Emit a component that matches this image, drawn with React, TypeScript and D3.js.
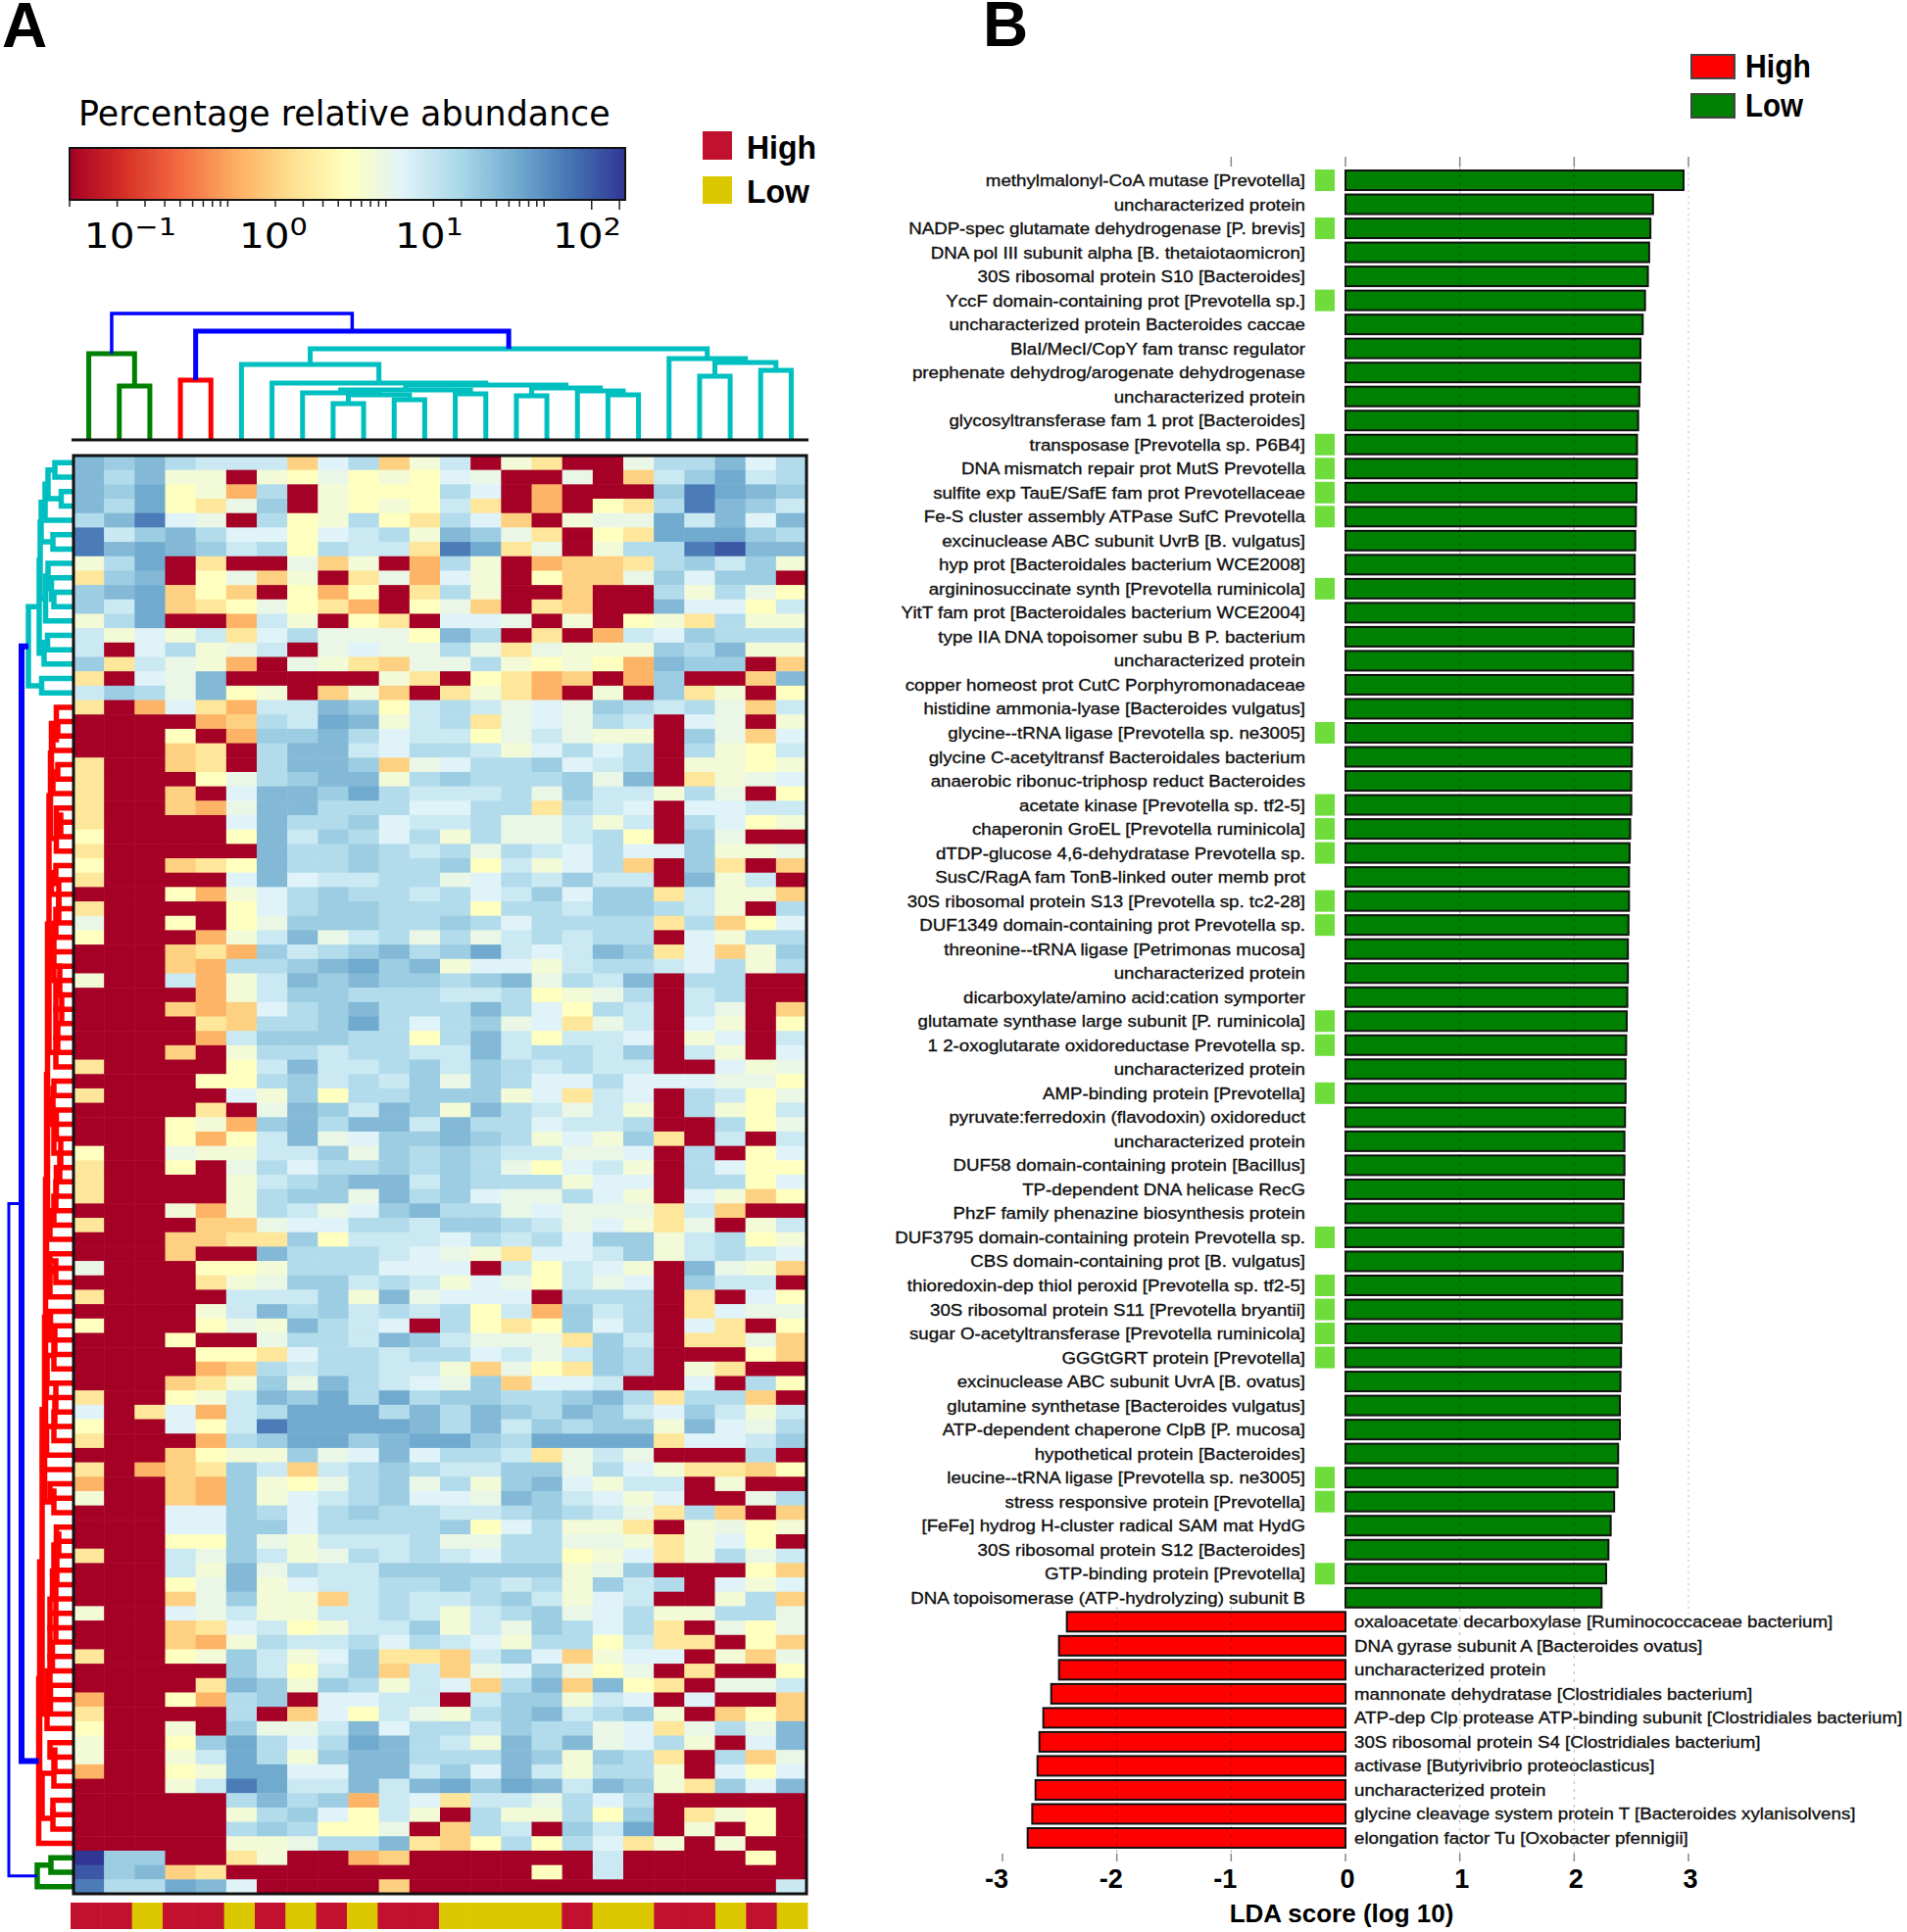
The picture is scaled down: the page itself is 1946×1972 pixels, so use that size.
import React from 'react';
import * as d3 from 'd3';

// ---------- Panel A data ----------
const levelKeys = ['R','O','o','y','Y','g','e','w','l','k','m','b','B','d','D','n'];
const levelAbundance = [0.05,0.62,1.0,1.5,2.85,4,5,6.4,8.8,13,18,26,34,66,107,163];
const heatRows = [
'b m b k l l l o w k o g l R g y R R e k k b w k',
'b k b g g R g Y e Y g Y w e R R e R o l m B l k',
'b m B Y g O k R g Y Y Y k w R O R R R m d B b m',
'b k B Y y e m R g Y g Y l y R O R Y y k d b m l',
'k b d w e R k Y g k Y y k w o R g e e B l b w b',
'd l m b k w w Y w l k g b m e y R Y y B B B m k',
'd b B b m l k Y k l l y d B y e R g k k d D b b',
'g k B R y R R e o g R O k g R O o o y k m l m g',
'y m b R Y e o g R y e O w g R Y o o e m w m m R',
'm b B o Y o R Y O Y R y k g R R o R R k g k e Y',
'm l B o y Y e Y y O R Y e o R y o R R b w w Y l',
'g k B R R O l g R Y y R w w e R g R Y g y k g g',
'l g w g l y w k e e e Y b k R y R O l w m k k k',
'l R w k g e l R e w e e k e y e g g g m k b g g',
'm y l e g O R e g y o e e k g Y g Y O b m m R o',
'y R w e b R R R R R g y R Y y O o R O m R R o b',
'l m k e b Y g R o g o R y g y O R g R m y g R Y',
'y R O w y O l l b m Y l k l e w e m k l k e o l',
'R R R R O o k l B b g l k y e w e k l R w e R g',
'R R R Y R O m m b k w l l Y e l e g g R m e o w',
'R R R o y R k b b l w k k l g w k w k R k g Y l',
'y R R o y R k b b m o e w k k m w l k R g g Y g',
'y R R R Y e k m b b g k m k k k m e b R y g e w',
'y R R o R w b b m B k l l l k e m l l g k e R Y',
'y R R o O e b b k k k w w k k y k l w R w w l l',
'y R R R R w b k k m w l l k e e l g l R k w Y g',
'Y R R R R Y b l m k w k g k e e l k Y R m e R R',
'y R R R R R b k k m k l k e k l w k w w m g g e',
'Y R R o y Y b k k m k k m Y l g w k o R m y R o',
'y R R R R w b w l l k k e w k l m l l R b g l R',
'R R R Y O g w k m k k l k w l m w m m y l g g o',
'y R R R R Y w k m m k k k Y k k l m m k l g R k',
'e R R Y R Y e m m m k k m k w k k k k y k o Y w',
'Y R R R O g l b e l k e k e l k l k k R w g k k',
'R R R o y O m l k m b k m B l w l b m y w o g m',
'R R R o O k k m b B m b g w w g l k k l w k g k',
'g R R l O g l b m b m m k m b e k l b R k k R R',
'R R R R O g l m m k k k l l k Y g e k R l k R R',
'R R R o O o w k m b k k k b k w Y k l R l e R o',
'R R R R y o k k m B k w k m e w y e l R w g R Y',
'R R R R O l m m m k k Y k b l Y l l w R g w R l',
'R R R o R g k k l k k l l b l k k l m R l g R w',
'y R R R R Y l b l l k m l m k l k l l R R w g e',
'R R R R Y Y k m l k l m e m k w w k w w w e e Y',
'y R R R R w g m Y k k m m m g w y l w R k l Y e',
'R R R R y R e b m l b m g b k l e l g R k g Y l',
'R R R Y g O m b k b b l b k k w l l k R R k Y e',
'R R R Y O Y l b e w m m b m k g w g m y R l R l',
'Y R R e g g l l m e m k m k l l e e w R k R Y w',
'y R R Y R e k w k k m k m k e Y w l g R k w Y Y',
'y R R R R g l k m b b l m k k k g w w R k k Y w',
'y R R R R g k m m e b k m w e e k w g R w g o Y',
'R R R g O g k l e w m b k k e w e e e y l o R R',
'y R R R o o e w w k k l m m k l e w g y e R g l',
'R R R o o y y m Y l l l w k l k w m m g l k Y g',
'R R R o R R b k k k l w e g y w w l m g l k l w',
'e R R R Y Y g k k k w w w R l Y l w g R b e g o',
'R R R R y g e m m l k l g w e Y l e w R m l l R',
'y R R R R l l l m g b e w w w R k k k R y R w Y',
'R R R R g l b k m l k l k Y l O m l k R y w e e',
'Y R R R Y e g b k l w R k Y y Y m w k R w y R Y',
'R R R Y R R e k k l b m l e e e y m l R y y e o',
'R R R R Y Y y w k k l k k w l e l m k R R R Y o',
'R R R R O o k l k k l l g o e Y y m k R g y R R',
'R R R o y g m e b k l w e m o w w l R R w R k Y',
'y R R Y g l b m B k B k m m k k m b k y k k o R',
'w R y w O l k B B B k b k b m k b m l w m l g l',
'Y R R w Y l d B B B B b k b l m k m m g b w e k',
'y R R R O k m B B m b B B m k B B B B y w w l m',
'R R R o Y g g m e w b w k k l y e l e R R R k R',
'y R O o y m l o l k m k l l m m e k w g y y o Y',
'O R R o O m g Y e k m e k g m b w g l l R g R R',
'g R R o O m g w l k m w w e b m l w g w R R e k',
'R R R w w m k w k m k k l l k m k l e y k o R o',
'R R R w w m m w k k k k m Y w k g g y R g e Y g',
'R R R Y Y m e g l l l k e e k k e e g y g w Y R',
'y R R l e m l g e k l k l w k k Y g w y g k e l',
'R R R l g b e k l l m m m m m m g e m R R R Y o',
'R R R Y e b g w l l k k m k l k g m l k R w g w',
'R R R o e m g g o l k l l k m l g w l R R g k o',
'g R R w e l g g l l k l g l k m e w k g g k k e',
'R R R o y w l Y g l l m g l e m k w k y R e Y e',
'R R R o O g k l l k w k l w g k k Y l y y R Y o',
'y R R Y g m l g w m y y o l m w o g w w R g o e',
'R R R R R m l Y l m o l o e w m e Y e R y R R Y',
'R R R R y b m g m k g l w o k b o b Y y R e e l',
'O R R Y O k m R w w l l R l m m g l w R w R R o',
'y R R R R k R o w Y l e g k m b l k m g R o Y o',
'Y R R g R m e e l b w k k l m k k e w y e k e b',
'g R R Y m B k w k B b k l g b k b e w k g R w b',
'g R R g l B k g m b b k k k b m g m k y R k o e',
'O R R Y g B B w w b b l m w b l g k k g R w Y w',
'R R R g l d B l l b l b B m B b l b m g y m w b',
'R R R R R k b k m O l w y l l e k w k R R R R R',
'R R R R R g k m w Y l g R k g g k Y m R y g Y R',
'R R R R R k m k Y Y e R o k l R m l B R g R Y R',
'R R R R R g g e k k b y o Y k Y k w y g R g R R',
'n m m R R y g R R O o R R R R R R l R R R R Y R',
'D m b o y R R R R R R R R R R Y R l R R R R R R',
'd k k B b w R R R R o R R R R R R R R R R R R l',
];
const sampleGroups = ['High','High','Low','High','High','Low','High','Low','High','Low','High','High','Low','Low','Low','Low','High','Low','Low','High','High','Low','High','Low'];
const rdYlBu = ['#a50026','#d73027','#f46d43','#fdae61','#fee090','#ffffbf','#e0f3f8','#abd9e9','#74add1','#4575b4','#313695'];
const colorbarTicks = [0.05,0.1,0.15,0.2,0.25,0.3,0.35,0.4,0.45,0.5,1,1.5,2,2.5,3,3.5,4,4.5,5,10,15,20,25,30,35,40,45,50,100,150];
const colorbarExponents = [['-1',133],['0',279],['1',438],['2',599]] as const;

type DNode = number | { l: DNode; r: DNode; h: number; c?: string };
const n = (l: DNode, r: DNode, h: number, c?: string): DNode => ({ l, r, h, c });

const CYAN = '#00bfc0', RED = '#ff0000', GREEN = '#008000', BLUE = '#0000ff';

// column dendrogram: merge heights
const colTree = n(
  n(0, n(1, 2, 55), 88, GREEN),
  n(
    n(3, 4, 61, RED),
    n(
      n(5, n(6, n(
        n(n(7, n(n(8, 9, 37), n(10, 11, 41), 46), 48), n(12, 13, 47), 51),
        n(n(14, 15, 45), n(16, n(17, 18, 46), 50), 53), 56), 58), 77),
      n(19, n(n(20, 21, 65), n(22, 23, 71), 79), 83),
      93, CYAN),
    111, BLUE),
  129, BLUE);

// row dendrogram: merge depths
const cyanRowTree = n(
  n(
    n(
      n(
        n(n(n(0, 1, 18), n(2, 3, 11.5), 25), 4, 28),
        n(5, 6, 20),
        32),
      n(n(7, n(8, n(9, 10, 19), 21.5), 25), 11, 27.5),
      33),
    n(n(12, 13, 25.5), 14, 29),
    34),
  n(15, 16, 31.5),
  45, CYAN);
const redFirstJoinRow = 17;
const redJoinHeights = [14,15,20,20,15,20,13,16.5,12,16.5,12,17,21.5,14,14,17,19,20.5,19,13,17,11,17,15,17,12,19,20,20.5,16.5,19,12,13,16.5,17,19,23,18,23,17,23,17,22.5,23,18,19,26,26.5,17,18,19,26.5,30.5,19,23,19,16.5,16.5,14,19,16,20.5,17,23,17,23,20.5,23,26,22.5,26,19,23,18,19,25,20,20,33];
const redClusters: [number, number][] = [[18,20],[21,23],[24,27],[28,42],[43,54],[55,58],[59,70],[71,73],[74,88]];
const redLowerClusters: [number, number][] = [[89,92],[93,95]];
const redStemHeights = [16.5,21.5,22.5,24,25.5,26.5,27.5,28.5,31,33.5,34.5];
const redLowerHeight = 31;
const redFirstRow = 17, redLastRow = 96;
const greenRowTree = n(n(97, 98, 22), 99, 36, GREEN);
const blueInnerHeight = 52, blueRootHeight = 65;

// ---------- Panel B data ----------
const lowLabels = ['methylmalonyl-CoA mutase [Prevotella]','uncharacterized protein','NADP-spec glutamate dehydrogenase [P. brevis]','DNA pol III subunit alpha [B. thetaiotaomicron]','30S ribosomal protein S10 [Bacteroides]','YccF domain-containing prot [Prevotella sp.]','uncharacterized protein Bacteroides caccae','BlaI/MecI/CopY fam transc regulator','prephenate dehydrog/arogenate dehydrogenase','uncharacterized protein','glycosyltransferase fam 1 prot [Bacteroides]','transposase [Prevotella sp. P6B4]','DNA mismatch repair prot MutS Prevotella','sulfite exp TauE/SafE fam prot Prevotellaceae','Fe-S cluster assembly ATPase SufC Prevotella','excinuclease ABC subunit UvrB [B. vulgatus]','hyp prot [Bacteroidales bacterium WCE2008]','argininosuccinate synth [Prevotella ruminicola]','YitT fam prot [Bacteroidales bacterium WCE2004]','type IIA DNA topoisomer subu B P. bacterium','uncharacterized protein','copper homeost prot CutC Porphyromonadaceae','histidine ammonia-lyase [Bacteroides vulgatus]','glycine--tRNA ligase [Prevotella sp. ne3005]','glycine C-acetyltransf Bacteroidales bacterium','anaerobic ribonuc-triphosp reduct Bacteroides','acetate kinase [Prevotella sp. tf2-5]','chaperonin GroEL [Prevotella ruminicola]','dTDP-glucose 4,6-dehydratase Prevotella sp.','SusC/RagA fam TonB-linked outer memb prot','30S ribosomal protein S13 [Prevotella sp. tc2-28]','DUF1349 domain-containing prot Prevotella sp.','threonine--tRNA ligase [Petrimonas mucosa]','uncharacterized protein','dicarboxylate/amino acid:cation symporter','glutamate synthase large subunit [P. ruminicola]','1 2-oxoglutarate oxidoreductase Prevotella sp.','uncharacterized protein','AMP-binding protein [Prevotella]','pyruvate:ferredoxin (flavodoxin) oxidoreduct','uncharacterized protein','DUF58 domain-containing protein [Bacillus]','TP-dependent DNA helicase RecG','PhzF family phenazine biosynthesis protein','DUF3795 domain-containing protein Prevotella sp.','CBS domain-containing prot [B. vulgatus]','thioredoxin-dep thiol peroxid [Prevotella sp. tf2-5]','30S ribosomal protein S11 [Prevotella bryantii]','sugar O-acetyltransferase [Prevotella ruminicola]','GGGtGRT protein [Prevotella]','excinuclease ABC subunit UvrA [B. ovatus]','glutamine synthetase [Bacteroides vulgatus]','ATP-dependent chaperone ClpB [P. mucosa]','hypothetical protein [Bacteroides]','leucine--tRNA ligase [Prevotella sp. ne3005]','stress responsive protein [Prevotella]','[FeFe] hydrog H-cluster radical SAM mat HydG','30S ribosomal protein S12 [Bacteroides]','GTP-binding protein [Prevotella]','DNA topoisomerase (ATP-hydrolyzing) subunit B'];
const lowScores = [2.957,2.69,2.667,2.656,2.645,2.62,2.6,2.58,2.58,2.57,2.56,2.55,2.55,2.545,2.54,2.535,2.53,2.53,2.525,2.52,2.515,2.515,2.51,2.51,2.505,2.5,2.5,2.49,2.485,2.48,2.48,2.475,2.47,2.47,2.465,2.46,2.455,2.45,2.45,2.445,2.44,2.44,2.435,2.43,2.43,2.425,2.42,2.42,2.415,2.41,2.405,2.4,2.4,2.385,2.38,2.35,2.32,2.3,2.28,2.24];
const prevotellaMarked = [1,3,6,12,13,14,15,18,24,27,28,29,31,32,36,37,39,45,47,48,49,50,55,56,59];
const highLabels = ['oxaloacetate decarboxylase [Ruminococcaceae bacterium]','DNA gyrase subunit A [Bacteroides ovatus]','uncharacterized protein','mannonate dehydratase [Clostridiales bacterium]','ATP-dep Clp protease ATP-binding subunit [Clostridiales bacterium]','30S ribosomal protein S4 [Clostridiales bacterium]','activase [Butyrivibrio proteoclasticus]','uncharacterized protein','glycine cleavage system protein T [Bacteroides xylanisolvens]','elongation factor Tu [Oxobacter pfennigii]'];
const highScores = [-2.437,-2.506,-2.506,-2.574,-2.643,-2.677,-2.694,-2.711,-2.74,-2.78];
const ldaTicks = [-3,-2,-1,0,1,2,3];
const ldaTopTicks = [-1,0,1,2,3];

// ---------- helpers ----------
const buildRedTree = (): DNode => {
  const ladder = ([a, b]: [number, number]): DNode => {
    let node: DNode = a;
    for (let i = a; i < b; i++) node = n(node, i + 1, redJoinHeights[i - redFirstJoinRow]);
    return node;
  };
  let node: DNode = redFirstRow;
  redClusters.forEach((c, i) => { node = n(node, ladder(c), redStemHeights[i]); });
  const lower = n(ladder(redLowerClusters[0]), ladder(redLowerClusters[1]), redLowerHeight);
  node = n(node, lower, redStemHeights[9]);
  return n(node, redLastRow, redStemHeights[10], RED);
};

type Seg = { pts: [number, number][]; color: string };
const layout = (node: DNode, pos: (i: number) => number, inherit: string, out: Seg[]): { p: number; h: number } => {
  if (typeof node === 'number') return { p: pos(node), h: 0 };
  const color = node.c || inherit;
  const a = layout(node.l, pos, color, out);
  const b = layout(node.r, pos, color, out);
  out.push({ pts: [[a.p, a.h], [a.p, node.h], [b.p, node.h], [b.p, b.h]], color });
  return { p: (a.p + b.p) / 2, h: node.h };
};

const FONT = 'Liberation Sans, Arial, sans-serif';

export default function App() {
  // heatmap
  const cols = d3.range(24), rows = d3.range(heatRows.length);
  const xCol = d3.scaleBand<number>().domain(cols).range([75, 823]);
  const yRow = d3.scaleBand<number>().domain(rows).range([465, 1933]);
  const xStrip = d3.scaleBand<number>().domain(cols).range([72, 824]);
  const logT = d3.scaleLog().domain([0.05, 163]).range([0, 1]).clamp(true);
  const interp = d3.piecewise(d3.interpolateRgb, rdYlBu);
  const color = (v: number) => interp(logT(v));
  const valueOf = (k: string) => levelAbundance[levelKeys.indexOf(k)];
  const xBar = d3.scaleLog().domain([0.05, 163]).range([71, 638]);

  // column dendrogram
  const colSegs: Seg[] = [];
  layout(colTree, (i) => xCol(i)! + xCol.bandwidth() / 2, BLUE, colSegs);
  const hTop = d3.scaleLinear().domain([0, 129]).range([449, 320]);
  const topLine = d3.line<[number, number]>().x((d) => d[0]).y((d) => hTop(d[1]));

  // row dendrogram
  const rowTree = n(n(cyanRowTree, buildRedTree(), blueInnerHeight, BLUE), greenRowTree, blueRootHeight, BLUE);
  const rowSegs: Seg[] = [];
  layout(rowTree, (i) => yRow(i)! + yRow.bandwidth() / 2, BLUE, rowSegs);
  const hLeft = d3.scaleLinear().domain([0, 65]).range([74, 9]);
  const leftLine = d3.line<[number, number]>().x((d) => hLeft(d[1])).y((d) => d[0]);

  // bars
  const lda = d3.scaleLinear().domain([-3, 3]).range([1023, 1723]);
  const allLabels = [...lowLabels, ...highLabels];
  const allScores = [...lowScores, ...highScores];
  const yBar = d3.scalePoint<number>().domain(d3.range(allLabels.length)).range([184, 1876]);
  const BAR_H = 20;

  return (
    <svg width={1946} height={1972} style={{ position: 'absolute', left: 0, top: 0, background: '#fff' }}>
      <defs>
        <linearGradient id="cb" x1="0" x2="1" y1="0" y2="0">
          {rdYlBu.map((c, i) => <stop key={i} offset={i / (rdYlBu.length - 1)} stopColor={c} />)}
        </linearGradient>
      </defs>

      <text x={2} y={48} fontFamily={FONT} fontWeight={700} fontSize={64}>A</text>
      <text x={1003} y={47} fontFamily={FONT} fontWeight={700} fontSize={64}>B</text>

      {/* colour bar */}
      <text x={80} y={128} fontFamily="DejaVu Sans" fontSize={34.8}>Percentage relative abundance</text>
      <rect x={71} y={151} width={567} height={53} fill="url(#cb)" stroke="#111" strokeWidth={2} />
      {colorbarTicks.map((t) => (
        <line key={t} x1={xBar(t)} x2={xBar(t)} y1={204} y2={t >= 100 ? 214 : 211} stroke="#222" strokeWidth={1.5} />
      ))}
      {colorbarExponents.map(([e, x]) => (
        <text key={e} transform={`translate(${x},253) scale(1.16,1)`} textAnchor="middle" fontFamily="DejaVu Sans" fontSize={35}>
          10<tspan dy={-13} fontSize={25}>{e === '-1' ? '\u22121' : e}</tspan>
        </text>
      ))}

      {/* legend A */}
      <rect x={717} y={134} width={30} height={29} fill="#c1112e" />
      <rect x={717} y={180} width={30} height={28} fill="#dcc800" />
      <text x={762} y={162} fontFamily={FONT} fontWeight={700} fontSize={34} textLength={71} lengthAdjust="spacingAndGlyphs">High</text>
      <text x={762} y={207} fontFamily={FONT} fontWeight={700} fontSize={34} textLength={64} lengthAdjust="spacingAndGlyphs">Low</text>

      {/* column dendrogram */}
      {colSegs.map((s, i) => (
        <path key={i} d={topLine(s.pts)!} fill="none" stroke={s.color} strokeWidth={s.pts[1][1] > 120 ? 3.5 : 5} />
      ))}
      <line x1={73} x2={825} y1={449} y2={449} stroke="#111" strokeWidth={3} />

      {/* row dendrogram */}
      {rowSegs.map((s, i) => (
        <path key={i} d={leftLine(s.pts)!} fill="none" stroke={s.color} strokeWidth={s.pts[1][1] > 60 ? 3 : s.color === BLUE ? 6 : 5.5} />
      ))}

      {/* heatmap */}
      {heatRows.map((row, r) => row.split(' ').map((k, c) => (
        <rect key={`${r}-${c}`} x={xCol(c)} y={yRow(r)} width={xCol.bandwidth() + 0.5} height={yRow.bandwidth() + 0.5} fill={color(valueOf(k))} />
      )))}
      <rect x={75} y={465} width={748} height={1468} fill="none" stroke="#111" strokeWidth={3} />

      {/* sample strip */}
      {sampleGroups.map((g, i) => (
        <rect key={i} x={xStrip(i)} y={1942} width={xStrip.bandwidth() + 0.5} height={27} fill={g === 'High' ? '#c1112e' : '#dcc800'} />
      ))}

      {/* panel B grid, under the bars */}
      <line x1={lda(3)} x2={lda(3)} y1={170} y2={1663} stroke="#bbb" strokeWidth={1} strokeDasharray="2,4" />
      {ldaTopTicks.map((t) => (
        <line key={t} x1={lda(t)} x2={lda(t)} y1={160} y2={170} stroke="#888" strokeWidth={1.5} />
      ))}

      {/* bars */}
      {allLabels.map((label, i) => {
        const v = allScores[i];
        const y = yBar(i)!;
        const low = v > 0;
        return (
          <g key={i}>
            <rect x={Math.min(lda(0), lda(v))} y={y - BAR_H / 2} width={Math.abs(lda(v) - lda(0))} height={BAR_H}
              fill={low ? '#008000' : '#ff0000'} stroke="#111" strokeWidth={2} />
            {low && prevotellaMarked.includes(i + 1) && (
              <rect x={1342} y={y - 11} width={20} height={22} fill="#6edc3a" />
            )}
            <text transform={`translate(${low ? 1332 : 1382},${y + 6}) scale(1.1,1)`} textAnchor={low ? 'end' : 'start'} fontFamily={FONT} fontSize={17}
              fill="#111" stroke="#111" strokeWidth={0.35}>{label}</text>
          </g>
        );
      })}

      {/* dashed grid over the bars */}
      {ldaTicks.filter((t) => t !== 0 && Math.abs(t) < 3).map((t) => (
        <line key={t} x1={lda(t)} x2={lda(t)} y1={t > 0 ? 170 : 1640} y2={1892} stroke="#000" strokeOpacity={0.3} strokeWidth={1} strokeDasharray="3,5" />
      ))}

      {/* LDA axis */}
      {ldaTicks.map((t) => (
        <g key={t}>
          <line x1={lda(t)} x2={lda(t)} y1={1892} y2={1900} stroke="#888" strokeWidth={1.5} />
          <text x={lda(t) + (t < 0 ? -6 : 2)} y={1927} textAnchor="middle" fontFamily={FONT} fontWeight={700} fontSize={27}>{t}</text>
        </g>
      ))}
      <text x={1369} y={1962} textAnchor="middle" fontFamily={FONT} fontWeight={700} fontSize={26}>LDA score (log 10)</text>

      {/* legend B */}
      <rect x={1726} y={56} width={44} height={24} fill="#ff0000" stroke="#444" strokeWidth={2} />
      <rect x={1726} y={96} width={44} height={24} fill="#008000" stroke="#444" strokeWidth={2} />
      <text x={1781} y={79} fontFamily={FONT} fontWeight={700} fontSize={34} textLength={67} lengthAdjust="spacingAndGlyphs">High</text>
      <text x={1781} y={119} fontFamily={FONT} fontWeight={700} fontSize={34} textLength={59} lengthAdjust="spacingAndGlyphs">Low</text>
    </svg>
  );
}
